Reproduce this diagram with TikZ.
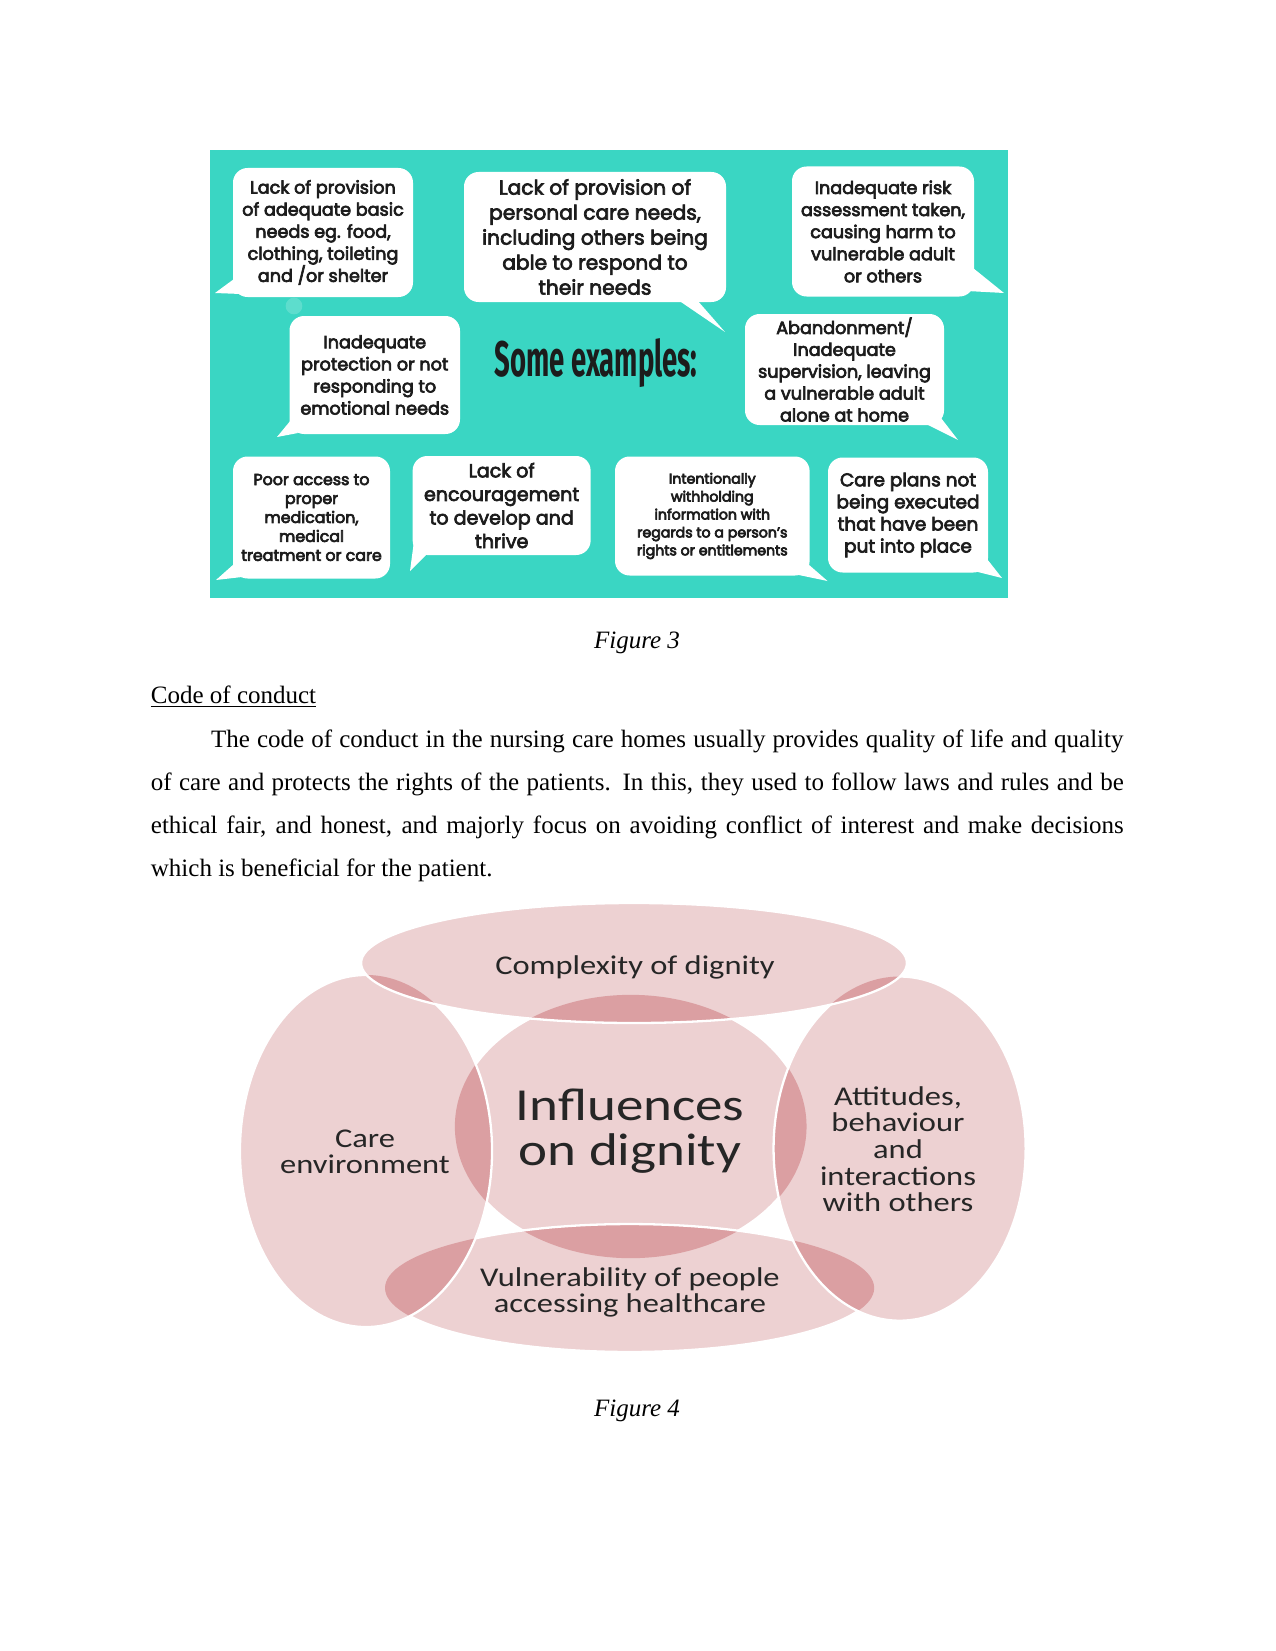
\documentclass[tikz,border=0pt]{standalone}
\usepackage{fontspec}
\usepackage{graphicx}
\setmainfont{Liberation Serif}
\newfontfamily\bubfont{Poppins}
\newfontfamily\calfont{Carlito}
\newfontfamily\headfont{Fira Sans}
\newcommand\emb{\special{pdf:literal direct 2 Tr 0.32 w}}
\newcommand\unemb{\special{pdf:literal direct 0 Tr}}
\usetikzlibrary{calc}
\definecolor{tealbg}{HTML}{3AD6C3}
\definecolor{pinkL}{HTML}{EDD1D2}
\definecolor{pinkD}{HTML}{DB9FA2}
\definecolor{txtD}{HTML}{1C1C1C}
\def\ellC{(630.7,1126.5) ellipse [x radius=84.4pt, y radius=63.2pt]}
\def\ellT{(634,963) ellipse [x radius=131.0pt, y radius=28.8pt]}
\def\ellL{(366,1151) ellipse [x radius=60.5pt, y radius=84.5pt]}
\def\ellR{(899.6,1148.6) ellipse [x radius=60.5pt, y radius=82.6pt]}
\def\ellB{(629.6,1288) ellipse [x radius=117.4pt, y radius=30.7pt]}
\tikzset{
  bubble/.style={fill=white, rounded corners=7pt, inner sep=0pt, align=center, text=txtD},
  tail/.style={fill=white},
  lbl/.style={text=black!85, inner sep=0pt, font=\calfont\fontsize{13}{12.6}\selectfont},
  body/.style={inner sep=0pt, anchor=base west, font=\fontsize{12}{14}\selectfont},
  edge/.style={draw=white, line width=1.1pt}
}
\begin{document}
\begin{tikzpicture}[x=0.48pt,y=-0.48pt]
\useasboundingbox (0,0) rectangle (1275,1651);
\fill[white] (0,0) rectangle (1275,1651);
% ---------- Figure 3 ----------
\fill[tealbg] (210,150) rectangle (1007.5,597.5);
\fill[white, opacity=0.18] (294,306) circle (4pt);
\node[bubble, minimum width=180*0.48pt, minimum height=129*0.48pt, font=\bubfont\fontsize{8.45}{10.6}\selectfont] (b1) at (323,232.5)
  {\emb Lack of provision\\of adequate basic\\needs eg. food,\\clothing, toileting\\and /or shelter\unemb};
\node[bubble, minimum width=262*0.48pt, minimum height=130*0.48pt, font=\bubfont\fontsize{9.7}{12}\selectfont] (b2) at (595,237)
  {\emb Lack of provision of\\personal care needs,\\including others being\\able to respond to\\their needs\unemb};
\node[bubble, minimum width=182*0.48pt, minimum height=130*0.48pt, font=\bubfont\fontsize{8.45}{10.6}\selectfont] (b3) at (883,231.5)
  {\emb Inadequate risk\\assessment taken,\\causing harm to\\vulnerable adult\\or others\unemb};
\node[bubble, minimum width=170.5*0.48pt, minimum height=118*0.48pt, font=\bubfont\fontsize{8.45}{10.6}\selectfont] (b4) at (374.75,375)
  {\emb Inadequate\\protection or not\\responding to\\emotional needs\unemb};
\node[bubble, minimum width=199*0.48pt, minimum height=111*0.48pt, font=\bubfont\fontsize{8.45}{10.5}\selectfont] (b6) at (844.5,369.5)
  {\emb Abandonment/\\Inadequate\\supervision, leaving\\a vulnerable adult\\alone at home\unemb};
\node[bubble, minimum width=157*0.48pt, minimum height=122*0.48pt, font=\bubfont\fontsize{7.6}{9.1}\selectfont] (b7) at (311.5,517.5)
  {\emb Poor access to\\proper\\medication,\\medical\\treatment or care\unemb};
\node[bubble, minimum width=178*0.48pt, minimum height=99*0.48pt, font=\bubfont\fontsize{9.15}{11.3}\selectfont] (b8) at (501.65,505.5)
  {\emb Lack of\\encouragement\\to develop and\\thrive\unemb};
\node[bubble, minimum width=194.6*0.48pt, minimum height=119*0.48pt, font=\bubfont\fontsize{6.8}{8.6}\selectfont] (b9) at (712.3,516)
  {\emb Intentionally\\withholding\\information with\\regards to a person’s\\rights or entitlements\unemb};
\node[bubble, minimum width=160*0.48pt, minimum height=115*0.48pt, font=\bubfont\fontsize{8.85}{10.6}\selectfont] (b10) at (908,515)
  {\emb Care plans not\\being executed\\that have been\\put into place\unemb};
% tails
\fill[tail] (234,279) -- (241,294) -- (215,293) -- cycle;
\fill[tail] (678,300) -- (697,300) -- (725,332) -- cycle;
\fill[tail] (973,268) -- (967,291) -- (1004,293) -- cycle;
\fill[tail] (291,420) -- (298,433) -- (277,437) -- cycle;
\fill[tail] (924,423) -- (941,418) -- (958,440) -- cycle;
\fill[tail] (234,564) -- (242,577) -- (216,580) -- cycle;
\fill[tail] (414,541) -- (427,554) -- (410,571) -- cycle;
\fill[tail] (794,574) -- (808,564) -- (827.5,581) -- cycle;
\fill[tail] (974,571) -- (987,559) -- (1002,578) -- cycle;
\node[anchor=base, inner sep=0pt, text=txtD, font=\headfont\bfseries\fontsize{24}{28}\selectfont] (se) at (596,376) {\scalebox{0.55}[1]{Some examples:}};
% ---------- page text ----------
\node[anchor=base, inner sep=0pt, font=\itshape\fontsize{12}{14}\selectfont] (cap3) at (637,648) {Figure 3};
\node[body] (coc) at (150.5,703) {\underline{Code of conduct}};
\node[body] (l1) at (210.6,747) {\makebox[438pt][s]{The code of conduct in the nursing care homes usually provides quality of life and quality}};
\node[body] (l2) at (150.5,790) {\makebox[467pt][s]{of care and protects the rights of the patients. In this, they used to follow laws and rules and be}};
\node[body] (l3) at (150.5,833) {\makebox[467pt][s]{ethical fair, and honest, and majorly focus on avoiding conflict of interest and make decisions}};
\node[body] (l4) at (150.5,876) {which is beneficial for the patient.};
% ---------- Figure 4 ----------
\fill[pinkL] \ellC; \draw[edge] \ellC;
\fill[pinkL] \ellB;
\begin{scope} \clip \ellB; \fill[pinkD] \ellC; \end{scope}
\draw[edge] \ellB;
\fill[pinkL] \ellL;
\begin{scope} \clip \ellL; \fill[pinkD] \ellC; \fill[pinkD] \ellB; \end{scope}
\draw[edge] \ellL;
\fill[pinkL] \ellR;
\begin{scope} \clip \ellR; \fill[pinkD] \ellC; \fill[pinkD] \ellB; \end{scope}
\draw[edge] \ellR;
\fill[pinkL] \ellT;
\begin{scope} \clip \ellT; \fill[pinkD] \ellC; \fill[pinkD] \ellL; \fill[pinkD] \ellR; \end{scope}
\draw[edge] \ellT;
\node[lbl] (tc) at (635,967) {\scalebox{1.2}[1]{Complexity of dignity}};
\node[lbl] (tl) at (365,1155) {\scalebox{1.2}[1]{\begin{tabular}{@{}c@{}}Care\\environment\end{tabular}}};
\node[lbl, font=\calfont\fontsize{22}{21.8}\selectfont] (tm) at (630,1134) {\scalebox{1.2}[1]{\begin{tabular}{@{}c@{}}Influences\\on dignity\end{tabular}}};
\node[lbl] (tr) at (898,1153) {\scalebox{1.2}[1]{\begin{tabular}{@{}c@{}}Attitudes,\\behaviour\\and\\interactions\\with others\end{tabular}}};
\node[lbl] (tb) at (630,1294) {\scalebox{1.2}[1]{\begin{tabular}{@{}c@{}}Vulnerability of people\\accessing healthcare\end{tabular}}};
\node[anchor=base, inner sep=0pt, font=\itshape\fontsize{12}{14}\selectfont] (cap4) at (637,1416) {Figure 4};
\end{tikzpicture}
\end{document}
